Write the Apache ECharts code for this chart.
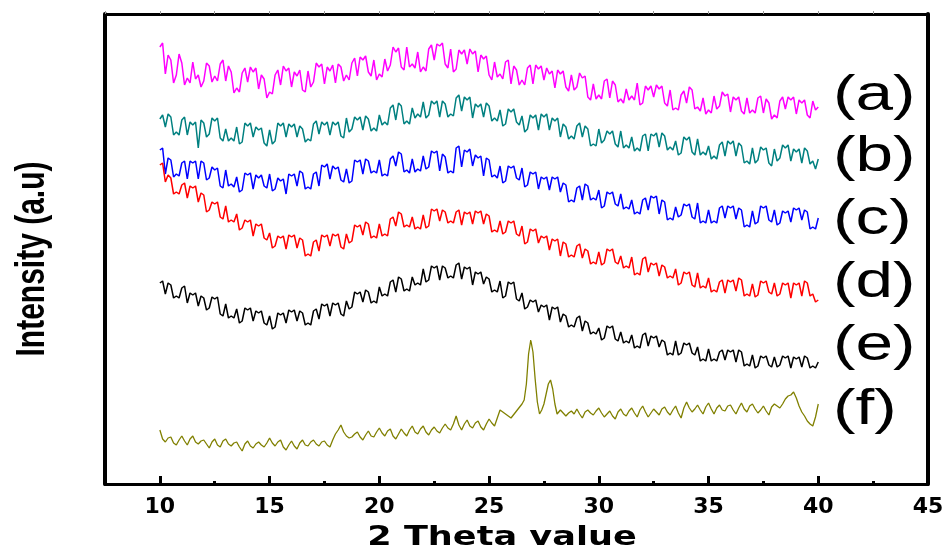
<!DOCTYPE html>
<html><head><meta charset="utf-8">
<script src="https://cdn.jsdelivr.net/npm/echarts@6.0.0/dist/echarts.min.js"></script>
<style>html,body{margin:0;padding:0;background:#fff}#c{width:949px;height:554px}</style>
</head><body><div id="c"></div>
<script>
const twoTheta=[10,10.25,10.5,10.75,11,11.25,11.5,11.75,12,12.25,12.5,12.75,13,13.25,13.5,13.75,14,14.25,14.5,14.75,15,15.25,15.5,15.75,16,16.25,16.5,16.75,17,17.25,17.5,17.75,18,18.25,18.5,18.75,19,19.25,19.5,19.75,20,20.25,20.5,20.75,21,21.25,21.5,21.75,22,22.25,22.5,22.75,23,23.25,23.5,23.75,24,24.25,24.5,24.75,25,25.25,25.5,25.75,26,26.25,26.5,26.75,27,27.25,27.5,27.75,28,28.25,28.5,28.75,29,29.25,29.5,29.75,30,30.25,30.5,30.75,31,31.25,31.5,31.75,32,32.25,32.5,32.75,33,33.25,33.5,33.75,34,34.25,34.5,34.75,35,35.25,35.5,35.75,36,36.25,36.5,36.75,37,37.25,37.5,37.75,38,38.25,38.5,38.75,39,39.25,39.5,39.75,40];
const twoThetaMid=[10.125,10.375,10.625,10.875,11.125,11.375,11.625,11.875,12.125,12.375,12.625,12.875,13.125,13.375,13.625,13.875,14.125,14.375,14.625,14.875,15.125,15.375,15.625,15.875,16.125,16.375,16.625,16.875,17.125,17.375,17.625,17.875,18.125,18.375,18.625,18.875,19.125,19.375,19.625,19.875,20.125,20.375,20.625,20.875,21.125,21.375,21.625,21.875,22.125,22.375,22.625,22.875,23.125,23.375,23.625,23.875,24.125,24.375,24.625,24.875,25.125,25.375,25.625,25.875,26.125,26.375,26.625,26.875,27.125,27.375,27.625,27.875,28.125,28.375,28.625,28.875,29.125,29.375,29.625,29.875,30.125,30.375,30.625,30.875,31.125,31.375,31.625,31.875,32.125,32.375,32.625,32.875,33.125,33.375,33.625,33.875,34.125,34.375,34.625,34.875,35.125,35.375,35.625,35.875,36.125,36.375,36.625,36.875,37.125,37.375,37.625,37.875,38.125,38.375,38.625,38.875,39.125,39.375,39.625,39.875];

const seriesA=[437,410,424,409,421,406,422,409,403,418,408,420,403,412,396,411,402,412,395,405,392,409,399,413,397,408,394,413,402,417,400,413,401,417,409,421,408,424,412,424,410,425,419,432,417,437,420,432,417,435,424,438,420,435,415,430,420,430,412,425,409,422,410,422,400,414,404,416,400,415,404,410,396,410,397,409,397,406,387,400,389,403,386,399,385,395,388,401,381,394,387,395,381,394,376,389,381,394,377,386,374,388,378,388,372,384,373,386,374,386,371,381,369,383,375,384,370,381,369,383,377];
const seriesAMid=[441,429,401,430,399,401,405,397,421,402,403,424,418,391,392,416,417,416,409,386,390,414,418,416,412,414,392,397,421,420,417,419,420,403,404,426,427,428,408,404,407,413,437,436,414,417,416,412,413,439,440,441,416,412,434,434,435,433,429,428,404,407,405,424,418,399,399,419,419,418,416,413,414,413,393,394,411,408,384,385,385,405,403,382,381,384,384,379,398,398,399,398,378,374,374,393,397,375,373,370,371,375,392,390,387,387,370,371,371,388,385,365,366,387,387,387,384,384,366,374];

const seriesB=[365,357,367,352,364,349,359,336,361,350,363,346,355,346,357,342,358,347,354,341,354,343,358,347,357,347,355,345,360,350,359,349,359,348,366,355,364,354,365,356,369,362,376,364,378,363,376,370,382,369,380,367,380,370,386,373,384,366,377,367,378,366,374,360,372,362,368,355,366,354,367,354,363,347,357,348,358,347,355,340,355,344,350,340,353,339,347,336,348,333,348,337,348,337,343,331,344,332,345,332,338,328,339,328,340,328,338,323,336,324,334,321,335,326,336,323,332,321,333,323,325];
const seriesBMid=[369,370,349,349,367,362,362,364,347,366,366,343,343,343,340,361,361,357,356,338,340,361,361,360,360,358,342,343,363,362,362,362,362,346,352,367,367,368,353,353,359,359,379,381,360,360,366,367,366,383,383,383,367,368,389,387,387,380,380,381,363,363,358,375,375,359,352,369,369,370,370,366,366,360,345,345,361,358,338,338,341,353,353,337,336,336,333,333,350,350,351,351,334,334,329,347,347,329,329,329,325,325,342,343,343,341,321,320,321,337,336,318,323,339,339,335,335,336,320,315];

const seriesC=[334,310,324,310,321,305,321,305,321,306,314,298,314,300,307,294,309,295,306,298,310,295,303,290,308,298,311,297,310,298,317,305,315,304,315,303,322,310,323,313,324,310,325,318,330,314,325,315,328,317,331,313,327,313,336,317,332,318,326,308,324,309,318,303,316,306,316,299,310,295,305,294,305,292,299,284,296,284,298,286,294,278,290,280,290,277,284,272,284,274,286,270,282,266,277,269,278,267,281,263,274,263,276,266,276,265,274,259,273,262,276,264,274,261,271,262,274,264,272,257,266];
const seriesCMid=[336,326,307,308,323,323,323,323,304,317,316,296,298,297,292,311,311,309,309,296,293,306,305,310,310,313,295,295,312,319,320,318,317,302,301,324,324,325,311,311,308,308,328,332,312,311,312,313,315,333,333,330,311,311,338,334,335,329,328,326,307,306,301,318,318,304,297,312,312,307,307,307,307,301,282,282,298,300,284,284,276,292,292,278,275,275,270,270,286,288,288,284,264,264,267,280,280,265,261,261,261,261,278,278,278,276,257,257,260,278,278,262,259,273,273,276,276,274,255,255];

const seriesD=[319,302,306,292,299,286,296,282,289,274,280,267,278,264,270,256,262,248,258,246,251,238,246,235,247,236,244,230,242,233,247,238,248,237,250,243,257,249,260,248,260,250,265,258,270,259,267,257,269,258,273,263,272,263,272,259,270,260,271,260,268,254,263,252,261,250,258,242,253,241,246,234,243,228,240,229,238,226,233,222,232,221,233,222,228,218,227,211,225,212,219,208,217,208,215,201,210,199,211,198,206,194,202,191,202,193,204,190,200,189,201,192,201,190,199,186,199,188,201,190,184];
const seriesDMid=[321,309,290,290,301,298,298,291,272,282,282,265,262,262,254,264,264,260,260,244,236,248,248,249,249,246,228,228,244,249,249,250,250,235,241,259,259,262,246,246,248,248,267,272,257,257,255,255,256,275,275,274,261,261,274,272,272,273,273,270,252,252,250,263,263,248,240,255,255,248,248,245,245,242,227,227,240,235,220,220,219,235,235,220,216,216,209,209,227,221,221,219,206,206,199,212,212,197,196,196,192,192,204,204,204,206,188,188,187,203,203,190,188,201,201,201,201,203,188,182];

const seriesE=[201,190,199,188,196,181,189,178,186,176,185,170,180,168,175,163,174,163,171,161,168,157,169,161,172,163,171,161,173,165,178,168,179,170,183,177,190,182,192,183,197,190,202,192,205,195,207,201,215,204,216,204,216,208,219,205,215,199,210,200,205,194,203,188,200,185,191,177,182,172,177,164,175,162,168,159,166,153,161,152,156,146,156,145,152,143,149,138,149,138,146,137,142,131,143,131,139,131,137,125,135,125,132,124,132,122,132,120,129,118,126,119,127,119,126,116,125,117,126,118,122];
const seriesEMid=[203,201,186,186,198,191,191,188,174,187,187,168,166,166,161,176,176,173,173,159,155,171,171,174,174,173,159,159,175,180,180,181,181,168,175,192,192,194,181,181,188,188,204,207,193,193,199,199,202,218,218,218,206,206,221,217,217,212,212,207,192,192,186,202,202,183,175,184,184,179,179,177,177,170,157,157,168,163,150,150,144,158,158,143,141,141,136,136,151,148,148,144,129,129,129,141,141,129,123,123,123,123,134,134,134,134,118,118,116,128,128,117,117,128,128,127,127,128,116,116];

const twoThetaF=[10,10.25,10.5,10.75,11,11.25,11.5,11.75,12,12.25,12.5,12.75,13,13.25,13.5,13.75,14,14.25,14.5,14.75,15,15.25,15.5,15.75,16,16.25,16.5,16.75,17,17.25,17.5,17.75,18,18.25,18.5,18.75,19,19.25,19.5,19.75,20,20.25,20.5,20.75,21,21.25,21.5,21.75,22,22.25,22.5,22.75,23,23.25,23.5,23.75,24,24.25,24.5,24.75,25,25.25,25.5,25.75,26,26.25,26.5,26.6,26.7,26.8,26.9,27.0,27.1,27.2,27.3,27.4,27.5,27.6,27.7,27.8,27.9,28.0,28.1,28.25,28.5,28.75,29,29.25,29.5,29.75,30,30.25,30.5,30.75,31,31.25,31.5,31.75,32,32.25,32.5,32.75,33,33.25,33.5,33.75,34,34.25,34.5,34.75,35,35.25,35.5,35.75,36,36.25,36.5,36.75,37,37.25,37.5,37.75,38,38.25,38.5,38.75,39,39.25,39.5,39.75,40];
const seriesF=[54,42,47,39,48,39,48,40,44,36,45,37,45,38,42,33,43,36,42,37,46,38,44,34,43,35,44,38,44,38,43,37,50,59,48,47,52,44,53,47,56,48,55,45,55,48,58,50,58,49,57,51,60,54,68,54,64,56,63,54,65,58,74,70,66,73,80,84,100,130,144,132,105,82,70,74,80,90,100,104,95,80,70,74,68,73,75,66,74,69,76,67,73,65,75,68,76,67,78,67,75,69,77,69,78,66,82,72,79,70,81,70,79,73,79,70,81,72,80,71,78,69,80,76,85,89,86,72,63,58,80];
const twoThetaFMid=[10.125,10.375,10.625,10.875,11.125,11.375,11.625,11.875,12.125,12.375,12.625,12.875,13.125,13.375,13.625,13.875,14.125,14.375,14.625,14.875,15.125,15.375,15.625,15.875,16.125,16.375,16.625,16.875,17.125,17.375,17.625,17.875,18.125,18.375,18.625,18.875,19.125,19.375,19.625,19.875,20.125,20.375,20.625,20.875,21.125,21.375,21.625,21.875,22.125,22.375,22.625,22.875,23.125,23.375,23.625,23.875,24.125,24.375,24.625,24.875,25.125,25.375,28.625,28.875,29.125,29.375,29.625,29.875,30.125,30.375,30.625,30.875,31.125,31.375,31.625,31.875,32.125,32.375,32.625,32.875,33.125,33.375,33.625,33.875,34.125,34.375,34.625,34.875,35.125,35.375,35.625,35.875,36.125,36.375,36.625,36.875,37.125,37.375,37.625,37.875,38.125,38.375,38.625,38.875,39.125,39.375,39.625,39.875];
const seriesFMid=[45,46,41,44,43,45,42,43,40,42,39,43,40,41,37,40,38,40,39,41,41,42,37,39,38,41,39,42,40,42,39,44,54,52,46,50,47,49,48,52,51,53,48,50,51,54,52,55,52,54,53,56,56,60,59,60,58,61,57,60,61,66,71,70,70,72,71,73,71,70,68,72,70,73,71,74,72,71,72,75,72,74,71,76,76,75,74,77,75,76,74,78,74,76,75,78,75,74,73,77,78,80,88,92,78,68,60,67];

const tickLabels=[10,15,20,25,30,35,40,45];
const minorTicks=[12.5,17.5,22.5,27.5,32.5,37.5,42.5];
const topTicks=[7.5,10,12.5,15,17.5,20,22.5,25,27.5,30,32.5,35,37.5,40,42.5];
const curveLabels=['(a)','(b)','(c)','(d)','(e)','(f)'];
const colors=['#FF00FF','#008080','#0000FF','#FF0000','#000000','#808000'];
const widths=[1.5,1.5,1.5,1.5,1.5,1.3];

function merge(xs,ys,xm,ym){
  return xs.map((x,i)=>[x,ys[i]]).concat(xm.map((x,i)=>[x,ym[i]])).sort((p,q)=>p[0]-q[0]);
}
const dataSets=[
  merge(twoTheta,seriesA,twoThetaMid,seriesAMid),
  merge(twoTheta,seriesB,twoThetaMid,seriesBMid),
  merge(twoTheta,seriesC,twoThetaMid,seriesCMid),
  merge(twoTheta,seriesD,twoThetaMid,seriesDMid),
  merge(twoTheta,seriesE,twoThetaMid,seriesEMid),
  merge(twoThetaF,seriesF,twoThetaFMid,seriesFMid)
];
const series=dataSets.map((d,k)=>({type:'line',data:d,showSymbol:false,symbol:'none',smooth:false,
  lineStyle:{color:colors[k],width:widths[k]},itemStyle:{color:colors[k]},animation:false,silent:true}));

const labelY=[96,157,220,283,346,410];
const graphics=curveLabels.map((t,i)=>({type:'text',x:833,y:labelY[i],scaleX:1.35,
  style:{text:t,font:'50px "Liberation Sans"',fill:'#000',textAlign:'left',textVerticalAlign:'middle'}}));
graphics.push({type:'text',x:502,y:538,scaleX:1.3,
  style:{text:'2 Theta value',font:'bold 27px "DejaVu Sans"',fill:'#000',textAlign:'center',textVerticalAlign:'middle'}});
graphics.push({type:'text',x:33,y:259,rotation:Math.PI/2,scaleY:1.35,
  style:{text:'Intensity (a.u)',font:'bold 30px "Liberation Sans"',fill:'#000',textAlign:'center',textVerticalAlign:'middle'}});

const xBase={type:'value',min:7.5,max:45,interval:2.5,splitLine:{show:false}};
const chart=echarts.init(document.getElementById('c'),null,{renderer:'canvas'});
chart.setOption({
  animation:false,
  grid:{left:105,right:21,top:14,bottom:70,containLabel:false},
  xAxis:[
    Object.assign({},xBase,{position:'bottom',
      axisLine:{show:true,onZero:false,lineStyle:{color:'#000',width:3}},
      axisTick:{show:true,inside:true,length:8,customValues:tickLabels,lineStyle:{color:'#000',width:3}},
      axisLabel:{show:true,customValues:tickLabels,margin:12,color:'#000',fontFamily:'DejaVu Sans',fontWeight:'bold',fontSize:22}}),
    Object.assign({},xBase,{position:'bottom',
      axisLine:{show:false},
      axisTick:{show:true,inside:true,length:3,customValues:minorTicks,lineStyle:{color:'#000',width:3}},
      axisLabel:{show:false}}),
    Object.assign({},xBase,{position:'top',
      axisLine:{show:true,onZero:false,lineStyle:{color:'#000',width:3}},
      axisTick:{show:true,inside:false,length:3,customValues:topTicks,lineStyle:{color:'#999',width:1}},
      axisLabel:{show:false}})
  ],
  yAxis:[
    {type:'value',min:0,max:470,position:'left',splitLine:{show:false},
      axisLine:{show:true,onZero:false,lineStyle:{color:'#000',width:4}},axisTick:{show:false},axisLabel:{show:false}},
    {type:'value',min:0,max:470,position:'right',splitLine:{show:false},
      axisLine:{show:true,onZero:false,lineStyle:{color:'#000',width:4}},axisTick:{show:false},axisLabel:{show:false}}
  ],
  series:series,
  graphic:graphics
});
</script></body></html>
